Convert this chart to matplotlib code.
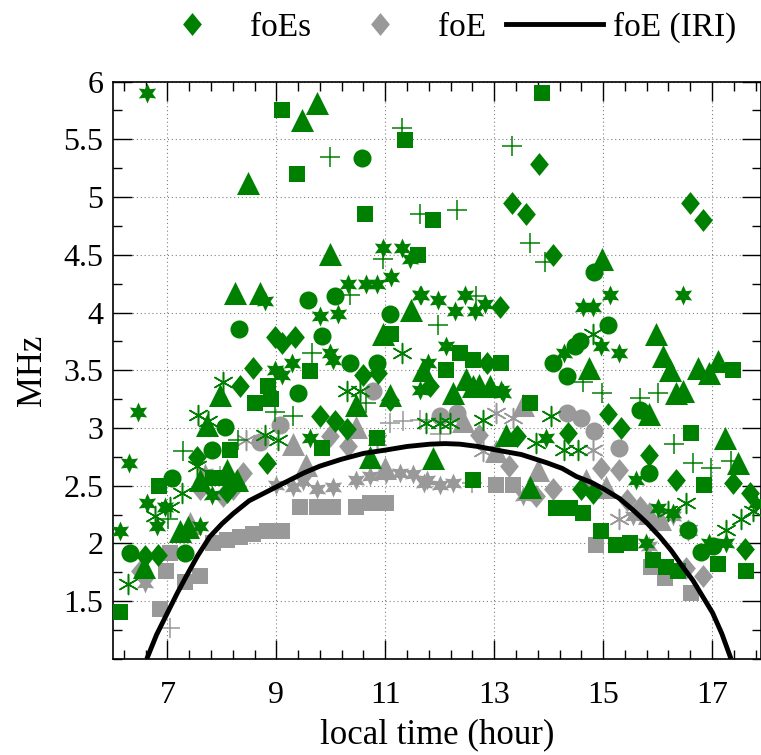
#!/usr/bin/env python3
"""
foEs / foE scatter vs local time with IRI foE curve
"""

import matplotlib
matplotlib.use('Agg')
import matplotlib.pyplot as plt
from matplotlib.lines import Line2D
import numpy as np

# ---- foE (IRI) curve ----
iri_t = [6.62, 6.80, 7.00, 7.18, 7.35, 7.55, 7.78, 8.00, 8.21, 8.50,
         9.00, 9.50, 9.80, 10.20, 10.60, 11.02, 11.40, 11.82, 12.10, 12.37,
         12.70, 13.03, 13.50, 13.96, 14.25, 14.51, 14.78, 15.02, 15.30, 15.55,
         15.80, 16.04, 16.25, 16.46, 16.65, 16.83, 17.01, 17.18, 17.35]
iri_f = [1.00, 1.21, 1.40, 1.57, 1.72, 1.89, 2.06, 2.17, 2.26, 2.37,
         2.49, 2.61, 2.67, 2.73, 2.78, 2.81, 2.84, 2.86, 2.865, 2.86,
         2.84, 2.81, 2.77, 2.70, 2.65, 2.58, 2.53, 2.47, 2.39, 2.29,
         2.18, 2.06, 1.94, 1.80, 1.68, 1.54, 1.40, 1.22, 1.00]

# ---- foEs (green), one list pair per marker shape ----
es_diamond_t = [13.33, 13.59, 13.83, 14.08, 16.59, 16.83, 13.10, 12.86, 11.82, 8.97,
                9.10, 9.34, 10.59, 10.87, 8.57, 8.33, 6.59, 6.83, 8.82, 9.80,
                10.07, 10.29, 11.08, 13.41, 14.35, 14.60, 14.81, 15.09, 15.33, 15.85,
                16.34, 17.38, 17.69, 17.60, 7.55, 8.10]
es_diamond_f = [4.95, 4.85, 5.29, 4.50, 4.95, 4.80, 4.05, 3.56, 3.36, 3.79,
                3.74, 3.79, 3.46, 3.48, 3.52, 3.36, 1.89, 1.90, 2.70, 3.10,
                3.06, 2.99, 3.24, 2.93, 2.96, 2.47, 2.44, 3.12, 3.00, 2.77,
                2.55, 2.52, 2.44, 1.95, 2.75, 2.45]

es_tri_t = [9.74, 9.47, 8.48, 9.98, 8.24, 8.70, 11.48, 10.96, 11.69, 7.96,
            11.08, 12.49, 12.73, 12.24, 14.98, 15.98, 14.74, 16.10, 16.22, 16.74,
            16.95, 17.11, 16.46, 6.56, 7.23, 7.38, 7.72, 7.60, 8.09, 8.27,
            10.47, 10.72, 12.61, 12.92, 11.88, 13.22, 13.65, 15.85, 16.34, 17.23,
            17.47]
es_tri_f = [5.81, 5.67, 5.12, 4.51, 4.17, 4.17, 4.02, 3.81, 3.50, 3.29,
            3.29, 3.42, 3.37, 3.30, 4.46, 3.81, 3.52, 3.62, 3.50, 3.52,
            3.48, 3.58, 3.32, 1.80, 2.11, 2.14, 3.03, 2.55, 2.64, 2.55,
            3.20, 2.75, 3.36, 3.36, 2.74, 2.94, 2.49, 3.12, 3.30, 2.91,
            2.70]

es_sq_t = [9.11, 11.36, 9.37, 10.62, 11.87, 13.87, 11.60, 11.11, 12.37, 12.61,
           13.13, 12.12, 9.61, 8.85, 17.38, 6.12, 6.85, 8.15, 7.84, 8.06,
           9.83, 10.84, 12.61, 14.14, 14.39, 14.63, 13.65, 16.62, 16.86, 17.11,
           17.63, 14.97, 15.24, 15.49, 15.91, 16.16, 16.37, 8.60, 8.90]
es_sq_f = [5.75, 5.49, 5.20, 4.85, 4.80, 5.90, 4.50, 3.81, 3.65, 3.59,
           3.56, 3.50, 3.49, 3.36, 3.50, 1.41, 2.50, 2.81, 2.57, 2.57,
           2.83, 2.91, 2.55, 2.31, 2.31, 2.26, 3.22, 2.96, 2.51, 1.82,
           1.76, 2.11, 1.99, 2.00, 1.86, 1.80, 1.76, 3.22, 3.25]

es_circ_t = [10.57, 10.07, 9.58, 11.08, 8.32, 9.83, 10.35, 10.84, 14.83, 15.09,
             14.57, 14.48, 14.08, 14.33, 6.31, 7.08, 7.32, 7.81, 8.06, 15.67,
             15.85, 16.56, 16.80, 17.01, 9.40]
es_circ_f = [5.34, 4.14, 4.11, 3.99, 3.86, 3.80, 3.56, 3.56, 4.35, 3.89,
             3.75, 3.71, 3.56, 3.45, 1.92, 2.57, 1.92, 2.81, 3.01, 3.16,
             2.61, 2.12, 1.93, 1.98, 3.30]

es_hex_t = [6.62, 15.13, 14.63, 14.81, 16.46, 14.97, 15.30, 14.29, 11.66, 11.97,
            12.28, 12.46, 12.64, 12.83, 12.12, 11.79, 13.13, 10.96, 11.30, 11.45,
            10.32, 10.65, 10.84, 11.11, 11.63, 8.79, 9.80, 10.13, 9.98, 10.04,
            8.97, 9.28, 9.10, 6.46, 6.30, 6.13, 6.62, 6.95, 6.80, 7.60,
            7.81, 9.61, 11.63, 13.16, 13.96, 15.61, 16.01, 16.28, 16.95, 17.26,
            15.79, 17.80]
es_hex_f = [5.90, 4.15, 4.05, 4.05, 4.15, 3.71, 3.65, 3.65, 4.15, 4.11,
            4.01, 4.15, 4.01, 4.07, 3.71, 3.56, 3.33, 4.56, 4.56, 4.46,
            4.25, 4.25, 4.25, 4.31, 4.15, 4.10, 3.97, 3.99, 3.65, 3.59,
            3.50, 3.56, 3.46, 3.14, 2.70, 2.11, 2.35, 2.32, 2.15, 2.15,
            2.42, 2.91, 3.33, 3.30, 2.91, 2.55, 2.31, 2.26, 2.00, 2.00,
            2.00, 2.35]

es_plus_t = [11.30, 9.98, 11.63, 12.31, 13.32, 13.65, 13.94, 14.63, 14.98, 15.67,
             16.00, 12.67, 11.97, 10.96, 10.35, 9.65, 7.01, 7.29, 8.30, 8.97,
             9.31, 10.65, 16.31, 16.65, 16.99, 17.35]
es_plus_f = [5.60, 5.35, 4.85, 4.89, 5.44, 4.60, 4.44, 3.40, 3.30, 3.26,
             3.30, 4.14, 3.89, 4.46, 4.15, 3.65, 2.21, 2.80, 2.90, 3.14,
             3.10, 3.22, 2.86, 2.70, 2.65, 2.71]

es_ast_t = [11.30, 8.02, 10.29, 10.53, 14.81, 6.28, 6.77, 7.05, 7.26, 7.54,
            7.75, 7.57, 8.79, 9.03, 11.75, 12.00, 12.18, 12.79, 14.05, 13.77,
            14.29, 14.54, 16.52, 16.19, 17.26, 17.54, 17.75]
es_ast_f = [3.65, 3.40, 3.32, 3.32, 3.81, 1.65, 2.24, 2.32, 2.44, 2.67,
            3.06, 3.11, 2.94, 2.90, 3.04, 3.04, 3.04, 3.07, 3.10, 2.87,
            2.81, 2.81, 2.35, 2.28, 2.12, 2.21, 2.28]

# ---- foE (gray) ----
e_sq_t = [6.86, 6.97, 7.32, 7.60, 7.84, 8.09, 8.33, 8.57, 8.82, 9.10,
          9.43, 9.74, 10.04, 10.47, 10.72, 11.02, 13.04, 13.34, 14.87, 15.88,
          16.13, 16.61, 7.05]
e_sq_f = [1.43, 1.76, 1.67, 1.72, 2.00, 2.03, 2.06, 2.08, 2.11, 2.11,
          2.32, 2.32, 2.32, 2.32, 2.35, 2.35, 2.51, 2.51, 1.99, 1.80,
          1.70, 1.57, 1.92]

e_diamond_t = [6.50, 7.60, 8.21, 8.39, 8.02, 9.98, 10.32, 12.73, 13.28, 14.97,
               15.30, 16.83, 16.52, 13.77, 14.08, 15.43, 15.67]
e_diamond_f = [1.76, 2.47, 2.47, 2.61, 2.41, 2.93, 2.84, 2.94, 2.67, 2.65,
               2.64, 1.72, 1.79, 2.41, 2.47, 2.38, 2.32]

e_circ_t = [9.06, 8.70, 10.78, 14.33, 14.60, 14.84, 15.30, 12.00, 12.31]
e_circ_f = [3.03, 2.88, 3.32, 3.13, 3.09, 2.97, 2.83, 3.10, 3.13]

e_tri_t = [7.41, 9.31, 9.55, 10.47, 12.43, 13.04, 13.81, 15.06, 15.85, 16.04,
           14.69, 13.53, 11.00]
e_tri_f = [2.18, 2.86, 2.68, 3.01, 3.06, 2.80, 2.64, 2.49, 2.26, 2.21,
           2.55, 3.20, 2.65]

e_hex_t = [6.59, 7.69, 9.00, 9.31, 9.49, 9.74, 10.04, 10.47, 10.72, 11.02,
           11.27, 11.51, 11.76, 11.72, 12.00, 12.24, 15.85, 16.28, 15.55, 13.53]
e_hex_f = [1.66, 2.61, 2.51, 2.49, 2.54, 2.47, 2.49, 2.55, 2.58, 2.60,
           2.61, 2.60, 2.55, 2.52, 2.51, 2.52, 1.98, 2.24, 2.24, 2.41]

e_ast_t = [15.30, 14.81, 12.79, 13.34, 13.04, 16.56, 10.84, 8.45]
e_ast_f = [2.21, 2.81, 2.80, 3.09, 3.13, 2.12, 2.90, 2.90]

e_plus_t = [7.05, 11.08, 11.33, 11.63, 12.00, 7.96, 12.60]
e_plus_f = [1.27, 3.04, 3.06, 3.07, 2.95, 2.58, 2.52]

GREEN = '#008000'
GRAY = '#999999'

# 세로로 약간 긴 다이아몬드
DIAMOND = [(0, 1), (0.82, 0), (0, -1), (-0.82, 0), (0, 1)]
HEXAGRAM = (6, 1, 0)
ASTER = (6, 2, 0)

plt.rcParams['font.family'] = ['Liberation Serif', 'DejaVu Serif']
plt.rcParams['mathtext.fontset'] = 'stix'


def scatter_set(ax, color, groups):
    """marker shape 별로 점 찍기"""
    for t, f, marker, size in groups:
        if marker in ('+', ASTER):
            ax.scatter(t, f, marker=marker, s=size, color=color, linewidths=1.1, zorder=3)
        else:
            ax.scatter(t, f, marker=marker, s=size, color=color, linewidths=0, zorder=3)


def plot_foes():
    fig = plt.figure(figsize=(7.61, 7.55), dpi=100)
    ax = fig.add_axes([0.1485, 0.1272, 0.8515, 0.7648])

    scatter_set(ax, GRAY, [
        (e_sq_t, e_sq_f, 's', 132),
        (e_diamond_t, e_diamond_f, DIAMOND, 272),
        (e_circ_t, e_circ_f, 'o', 169),
        (e_tri_t, e_tri_f, '^', 275),
        (e_hex_t, e_hex_f, HEXAGRAM, 207),
        (e_ast_t, e_ast_f, ASTER, 207),
        (e_plus_t, e_plus_f, '+', 188),
    ])
    scatter_set(ax, GREEN, [
        (es_sq_t, es_sq_f, 's', 132),
        (es_diamond_t, es_diamond_f, DIAMOND, 272),
        (es_circ_t, es_circ_f, 'o', 169),
        (es_tri_t, es_tri_f, '^', 275),
        (es_hex_t, es_hex_f, HEXAGRAM, 207),
        (es_ast_t, es_ast_f, ASTER, 207),
        (es_plus_t, es_plus_f, '+', 188),
    ])

    ax.plot(iri_t, iri_f, color='black', linewidth=3.5, zorder=4,
            solid_capstyle='butt', solid_joinstyle='round')

    ax.set_xlim(6, 17.9)
    ax.set_ylim(1, 6)
    ax.set_xticks([7, 9, 11, 13, 15, 17])
    ax.set_xticks(np.arange(6.2, 17.9, 0.4), minor=True)
    ax.set_yticks(np.arange(1.5, 6.01, 0.5))
    ax.set_yticklabels(['1.5', '2', '2.5', '3', '3.5', '4', '4.5', '5', '5.5', '6'])
    ax.set_yticks(np.arange(1.0, 6.01, 0.25), minor=True)

    ax.tick_params(which='both', direction='in', top=True, right=True, width=1.0)
    ax.tick_params(which='major', length=14)
    ax.tick_params(which='minor', length=6.5)
    ax.tick_params(axis='x', which='major', labelsize=23, pad=16)
    ax.tick_params(axis='y', which='major', labelsize=23, pad=7)
    for sp in ax.spines.values():
        sp.set_linewidth(1.2)

    ax.grid(True, which='major', linestyle=(0, (1, 2.5)), color='gray', linewidth=0.8)
    ax.set_axisbelow(True)

    ax.set_xlabel('local time (hour)', fontsize=25, labelpad=6)
    ax.set_ylabel('MHz', fontsize=25, labelpad=10)

    handles = [
        Line2D([], [], linestyle='none', marker=DIAMOND, markersize=16.5,
               color=GREEN, markeredgewidth=0),
        Line2D([], [], linestyle='none', marker=DIAMOND, markersize=16.5,
               color=GRAY, markeredgewidth=0),
        Line2D([], [], color='black', linewidth=3.5),
    ]
    fig.legend(handles, ['foEs', 'foE', 'foE (IRI)'], loc='center',
               bbox_to_anchor=(0.578, 0.964), ncol=3, frameon=False,
               fontsize=24, handlelength=2.9, handletextpad=0.3,
               columnspacing=0.6)

    plt.savefig('out.png', dpi=100)
    plt.close()


if __name__ == "__main__":
    plot_foes()
